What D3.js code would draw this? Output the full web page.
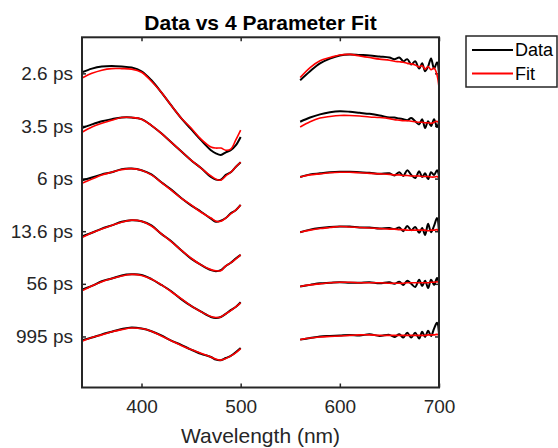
<!doctype html>
<html>
<head>
<meta charset="utf-8">
<style>
  body { margin: 0; background: #fff; }
  svg { display: block; font-family: 'Liberation Sans', Arial, sans-serif; }
  .tick text { font-size: 19px; fill: #262626; }
  .tick line { stroke: #262626; stroke-width: 1.5; }
  .domain { display: none; }
  text.title { font-size: 21px; font-weight: bold; fill: #000; }
  text.label { font-size: 21px; fill: #262626; }
  text.legend { font-size: 18px; fill: #000; }
</style>
<script src="https://d3js.org/d3.v7.min.js"></script>
</head>
<body>
<svg width="558" height="448"></svg>
<script>
// delays (tick labels) and the vertical offset of each trace
const delays = ['2.6 ps', '3.5 ps', '6 ps', '13.6 ps', '56 ps', '995 ps'];
const offsets = [50, 40, 30, 20, 10, 0];

const wlLeft = [340, 350, 360, 370, 380, 390, 400, 410, 420, 430, 440, 450, 460, 470, 475, 480, 485, 490, 495, 500];
const wlRight = [560, 570, 580, 590, 600, 610, 620, 630, 640, 650, 655, 660, 664, 668, 672, 676, 680, 683, 686, 689, 692, 695, 698, 700];

const dataLeft = [
  [0.2, 0.9, 1.3, 1.4, 1.3, 1.1, 0.4, -1.3, -3.6, -6.1, -8.5, -10.6, -12.7, -14.6, -15.2, -15.5, -15.0, -14.6, -13.7, -12.1],
  [-0.4, 0.3, 0.9, 1.3, 1.6, 1.6, 1.3, 0.1, -1.4, -3.1, -4.8, -6.5, -8.0, -9.7, -10.2, -10.2, -9.3, -8.8, -7.8, -6.9],
  [-0.3, 0.2, 0.8, 1.2, 1.8, 1.9, 1.6, 0.8, -0.7, -2.1, -3.7, -5.1, -6.3, -7.6, -8.2, -8.0, -7.5, -6.6, -6.0, -5.0],
  [-1.0, -0.3, 0.5, 1.1, 1.8, 2.1, 1.9, 1.1, -0.5, -1.9, -3.6, -5.2, -6.4, -7.4, -7.6, -7.4, -6.6, -6.0, -5.2, -4.5],
  [-1.1, -0.4, 0.5, 1.0, 1.6, 1.8, 1.7, 0.9, -0.2, -1.4, -2.9, -4.2, -5.3, -6.3, -6.5, -6.3, -5.7, -5.0, -4.4, -3.5],
  [-0.7, -0.2, 0.4, 0.9, 1.4, 1.7, 1.5, 1.0, 0.2, -0.8, -1.6, -2.5, -3.3, -3.9, -4.4, -4.5, -4.1, -3.7, -3.0, -2.2]
];
const fitLeft = [
  [-0.9, 0.0, 0.6, 0.9, 0.9, 0.8, 0.2, -1.5, -3.6, -6.1, -8.5, -10.4, -12.5, -14.0, -14.2, -14.2, -14.6, -14.4, -12.7, -10.8],
  [-1.2, -0.2, 0.5, 1.1, 1.6, 1.6, 1.3, 0.1, -1.4, -3.1, -4.8, -6.5, -8.0, -9.5, -10.1, -10.3, -9.5, -8.8, -7.8, -6.9],
  [-0.9, -0.1, 0.7, 1.2, 1.7, 1.9, 1.6, 0.7, -0.7, -2.2, -3.7, -5.0, -6.4, -7.5, -8.1, -8.1, -7.5, -6.7, -6.0, -5.0],
  [-1.2, -0.3, 0.4, 1.1, 1.7, 2.1, 1.9, 1.0, -0.5, -2.0, -3.6, -5.1, -6.4, -7.3, -7.5, -7.5, -6.6, -6.0, -5.3, -4.5],
  [-1.3, -0.4, 0.4, 1.0, 1.5, 1.8, 1.6, 0.9, -0.2, -1.5, -2.8, -4.2, -5.3, -6.2, -6.4, -6.3, -5.7, -5.1, -4.4, -3.6],
  [-0.9, -0.2, 0.3, 0.9, 1.3, 1.6, 1.5, 1.0, 0.1, -0.8, -1.7, -2.5, -3.2, -3.9, -4.3, -4.5, -4.2, -3.7, -3.1, -2.3]
];
const dataRight = [
  [-1.3, 0.4, 1.9, 2.8, 3.4, 3.6, 3.5, 3.4, 3.2, 3.0, 2.7, 3.0, 2.3, 2.7, 1.7, 2.3, 0.9, 1.9, 0.4, 1.3, 2.8, 0.9, 2.1, -0.2],
  [0.8, 1.6, 2.2, 2.6, 2.8, 2.7, 2.5, 2.3, 2.0, 1.6, 1.6, 1.4, 1.3, 1.1, 1.5, 0.9, 0.3, 1.3, -0.4, 0.9, 0.0, 1.3, -0.2, 0.7],
  [0.3, 0.8, 1.0, 1.2, 1.3, 1.3, 1.2, 1.1, 0.9, 1.0, 0.6, 1.2, 0.5, 1.6, 0.7, 0.1, 1.4, 0.3, 1.0, -0.1, 1.2, 0.7, 1.6, 0.5],
  [-0.2, 0.3, 0.6, 0.8, 0.9, 0.9, 0.7, 0.7, 0.5, 0.6, 0.4, 0.7, 0.0, 1.0, 0.2, 0.8, -0.3, 0.6, -0.7, 1.4, -0.2, 1.0, 2.5, -0.2],
  [-0.5, -0.2, 0.1, 0.2, 0.3, 0.2, 0.2, 0.3, 0.1, 0.3, 0.0, 0.4, -0.2, 0.6, 0.0, -0.6, 0.8, -0.4, 0.6, -0.8, 0.8, -0.2, 1.1, 0.2],
  [-0.6, -0.3, 0.0, 0.1, 0.2, 0.3, 0.2, 0.4, 0.1, 0.3, -0.1, 0.4, -0.2, 0.7, -0.2, 0.7, -0.4, 0.9, -0.1, 1.1, 0.1, 1.5, 2.6, 0.5]
];
const fitRight = [
  [-0.8, 1.1, 2.4, 3.0, 3.5, 3.6, 3.3, 3.0, 2.7, 2.5, 2.3, 2.2, 2.1, 1.9, 1.8, 1.6, 1.2, 1.5, 0.8, 1.3, 0.7, 1.0, -0.3, -2.7],
  [-0.2, 0.8, 1.5, 1.8, 2.0, 2.0, 1.9, 1.7, 1.6, 1.4, 1.2, 1.1, 1.0, 1.0, 0.9, 0.8, 0.7, 0.7, 0.6, 0.6, 0.5, 0.7, 0.9, 0.5],
  [0.3, 0.7, 0.9, 1.1, 1.2, 1.2, 1.1, 1.0, 0.9, 0.8, 0.7, 0.7, 0.6, 0.6, 0.5, 0.5, 0.5, 0.4, 0.4, 0.4, 0.3, 0.3, 0.4, 0.1],
  [-0.2, 0.2, 0.5, 0.7, 0.9, 0.8, 0.7, 0.6, 0.5, 0.4, 0.4, 0.3, 0.3, 0.2, 0.2, 0.2, 0.2, 0.2, 0.2, 0.1, 0.2, 0.2, 0.3, 0.0],
  [-0.5, -0.2, 0.0, 0.2, 0.3, 0.3, 0.2, 0.2, 0.2, 0.1, 0.1, 0.1, 0.1, 0.2, 0.2, 0.2, 0.2, 0.2, 0.2, 0.2, 0.3, 0.3, 0.4, 0.3],
  [-0.6, -0.3, -0.1, 0.0, 0.1, 0.2, 0.3, 0.3, 0.2, 0.2, 0.2, 0.2, 0.2, 0.2, 0.2, 0.2, 0.2, 0.2, 0.2, 0.3, 0.3, 0.3, 0.4, 0.3]
];
const xTicks = [400, 500, 600, 700];

const svg = d3.select('svg');
const axLeft = 82, axRight = 439, axTop = 37.3, axBottom = 387.5;

const x = d3.scaleLinear().domain([340, 700]).range([axLeft, axRight]);
const y = d3.scaleLinear().domain([-9.7, 56.85]).range([axBottom, axTop]);

// axes (ticks point inward like MATLAB)
svg.append('g')
  .attr('transform', `translate(0, ${axBottom})`)
  .call(d3.axisBottom(x).tickValues(xTicks).tickSizeInner(-4).tickSizeOuter(0).tickPadding(12));
svg.append('g')
  .attr('transform', `translate(0, ${axTop})`)
  .call(d3.axisTop(x).tickValues(xTicks).tickSizeInner(-4).tickSizeOuter(0).tickFormat(''));
svg.append('g')
  .attr('transform', `translate(${axLeft}, 0)`)
  .call(d3.axisLeft(y).tickValues(offsets).tickSizeInner(-4).tickSizeOuter(0).tickPadding(9)
    .tickFormat((d, i) => delays[i]));
svg.append('g')
  .attr('transform', `translate(${axRight}, 0)`)
  .call(d3.axisRight(y).tickValues(offsets).tickSizeInner(-4).tickSizeOuter(0).tickFormat(''));

const line = (wl) => d3.line()
  .x((d, i) => x(wl[i]))
  .y((d) => y(d))
  .curve(d3.curveCatmullRom);

const plot = svg.append('g');
offsets.forEach((off, k) => {
  const shift = (arr) => arr.map((v) => v + off);
  plot.append('path').attr('d', line(wlLeft)(shift(dataLeft[k])))
    .attr('fill', 'none').attr('stroke', '#000').attr('stroke-width', 2);
  plot.append('path').attr('d', line(wlRight)(shift(dataRight[k])))
    .attr('fill', 'none').attr('stroke', '#000').attr('stroke-width', 2);
  plot.append('path').attr('d', line(wlLeft)(shift(fitLeft[k])))
    .attr('fill', 'none').attr('stroke', '#ff0000').attr('stroke-width', 1.6);
  plot.append('path').attr('d', line(wlRight)(shift(fitRight[k])))
    .attr('fill', 'none').attr('stroke', '#ff0000').attr('stroke-width', 1.6);
});

// box
svg.append('rect')
  .attr('x', axLeft).attr('y', axTop)
  .attr('width', axRight - axLeft).attr('height', axBottom - axTop)
  .attr('fill', 'none').attr('stroke', '#262626').attr('stroke-width', 2);

svg.append('text')
  .attr('class', 'title')
  .attr('x', (axLeft + axRight) / 2)
  .attr('y', 30)
  .attr('text-anchor', 'middle')
  .text('Data vs 4 Parameter Fit');

svg.append('text')
  .attr('class', 'label')
  .attr('x', (axLeft + axRight) / 2)
  .attr('y', 443)
  .attr('text-anchor', 'middle')
  .text('Wavelength (nm)');

// legend
const lg = svg.append('g');
lg.append('rect')
  .attr('x', 466).attr('y', 36).attr('width', 91).attr('height', 51)
  .attr('fill', '#fff').attr('stroke', '#262626').attr('stroke-width', 1.5);
const entries = [['Data', '#000'], ['Fit', '#ff0000']];
entries.forEach(([name, color], i) => {
  const ly = 50 + i * 23.5;
  lg.append('line')
    .attr('x1', 472).attr('x2', 513).attr('y1', ly).attr('y2', ly)
    .attr('stroke', color).attr('stroke-width', 1.8);
  lg.append('text')
    .attr('class', 'legend')
    .attr('x', 515).attr('y', ly)
    .attr('dy', '0.35em')
    .text(name);
});
</script>
</body>
</html>
